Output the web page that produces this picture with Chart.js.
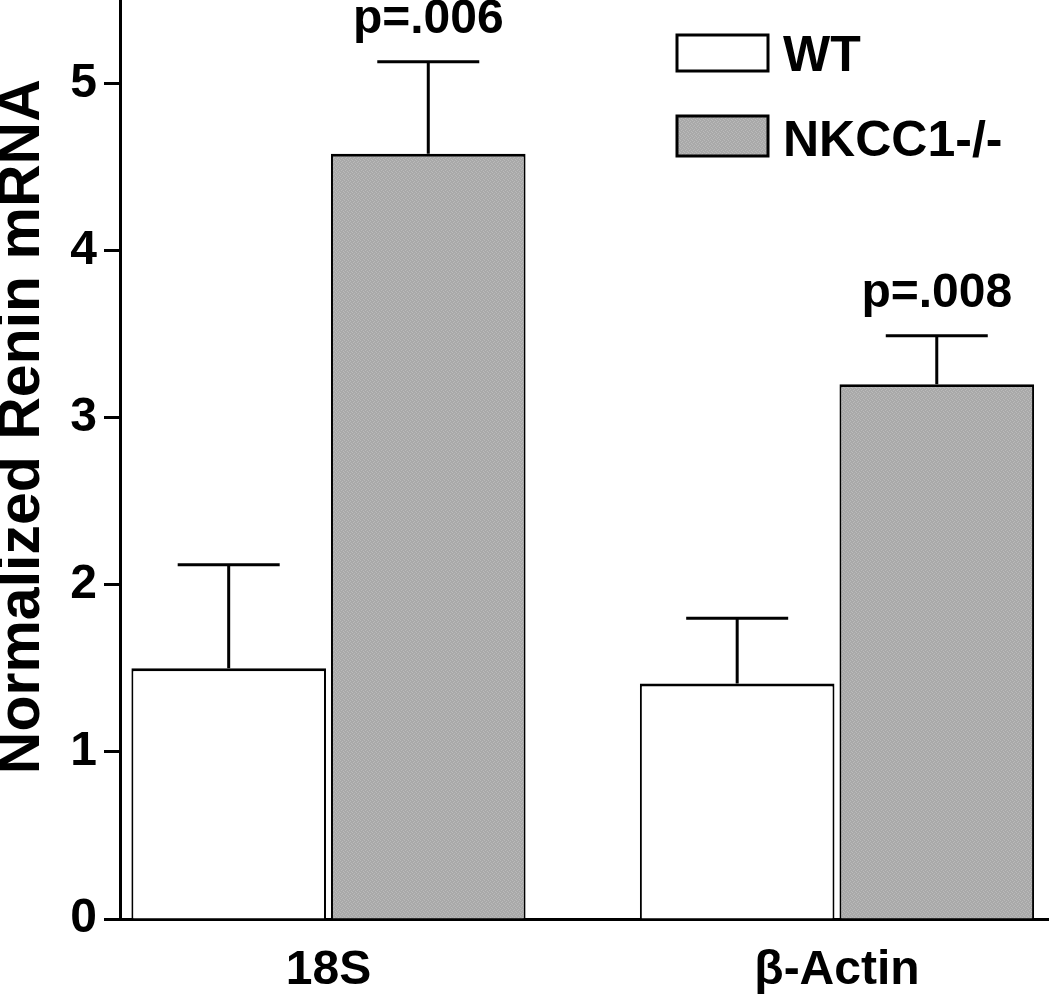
<!DOCTYPE html>
<html>
<head>
<meta charset="utf-8">
<title>Normalized Renin mRNA</title>
<script src="https://cdn.jsdelivr.net/npm/chart.js@4.4.1/dist/chart.umd.min.js"></script>
<style>
  html, body { margin: 0; padding: 0; background: #fff; }
  #wrap { width: 1050px; height: 1003px; position: relative; }
</style>
</head>
<body>
<div id="wrap"><canvas id="reninChart"></canvas></div>
<script>
// data
const categories = ['18S', 'β-Actin'];
const seriesNames = ['WT', 'NKCC1-/-'];
const wtValues = [1.50, 1.41];
const wtErrors = [0.62, 0.39];
const koValues = [4.58, 3.20];
const koErrors = [0.55, 0.29];
const pLabels = ['p=.006', 'p=.008'];
const yTicks = [0, 1, 2, 3, 4, 5];

const FONT = '"Liberation Sans", Arial, Helvetica, sans-serif';

// grey speckled fill like the printed figure
function greyPattern() {
  const c = document.createElement('canvas');
  c.width = 4; c.height = 4;
  const g = c.getContext('2d');
  g.fillStyle = '#a9a9a9';
  g.fillRect(0, 0, 4, 4);
  g.fillStyle = '#bababa';
  g.fillRect(0, 0, 1, 1);
  g.fillRect(2, 1, 1, 1);
  g.fillRect(1, 2, 1, 1);
  g.fillRect(3, 3, 1, 1);
  return g.createPattern(c, 'repeat');
}

// error bars (upper only) + p values over the knockout bars
const errorBars = {
  id: 'errorBars',
  afterDatasetsDraw(chart) {
    const ctx = chart.ctx;
    const y = chart.scales.y;
    ctx.save();
    ctx.strokeStyle = '#000';
    ctx.lineWidth = 3;
    chart.data.datasets.forEach((ds, di) => {
      const meta = chart.getDatasetMeta(di);
      meta.data.forEach((bar, i) => {
        const top = y.getPixelForValue(ds.data[i].y + ds.errors[i]);
        ctx.beginPath();
        ctx.moveTo(bar.x, bar.y);
        ctx.lineTo(bar.x, top);
        ctx.moveTo(bar.x - 51, top);
        ctx.lineTo(bar.x + 51, top);
        ctx.stroke();
        if (ds.pLabels) {
          ctx.fillStyle = '#000';
          ctx.font = 'bold 48px ' + FONT;
          ctx.textAlign = 'center';
          ctx.textBaseline = 'alphabetic';
          ctx.fillText(ds.pLabels[i], bar.x, top - 29);
        }
      });
    });
    ctx.restore();
  }
};

// legend boxes in the upper right corner
const cornerLegend = {
  id: 'cornerLegend',
  afterDraw(chart) {
    const ctx = chart.ctx;
    const rows = [{ y: 35, h: 36 }, { y: 116, h: 40 }];
    ctx.save();
    chart.data.datasets.forEach((ds, i) => {
      const r = rows[i];
      ctx.fillStyle = ds.backgroundColor;
      ctx.fillRect(677, r.y, 91, r.h);
      ctx.strokeStyle = '#000';
      ctx.lineWidth = 3;
      ctx.strokeRect(677, r.y, 91, r.h);
      ctx.fillStyle = '#000';
      ctx.font = 'bold 50px ' + FONT;
      ctx.textAlign = 'left';
      ctx.textBaseline = 'alphabetic';
      ctx.fillText(ds.label, 783, r.y + r.h);
    });
    ctx.restore();
  }
};

const ctx = document.getElementById('reninChart');
new Chart(ctx, {
  type: 'bar',
  data: {
    datasets: [
      {
        label: seriesNames[0],
        data: wtValues.map((v, i) => ({ x: i, y: v })),
        errors: wtErrors,
        backgroundColor: '#ffffff',
        borderColor: '#000',
        borderWidth: { top: 3, left: 2, right: 2, bottom: 0 },
        borderSkipped: false
      },
      {
        label: seriesNames[1],
        data: koValues.map((v, i) => ({ x: i, y: v })),
        errors: koErrors,
        pLabels: pLabels,
        backgroundColor: greyPattern(),
        borderColor: '#000',
        borderWidth: { top: 3, left: 2, right: 2, bottom: 0 },
        borderSkipped: false
      }
    ]
  },
  options: {
    responsive: true,
    maintainAspectRatio: false,
    animation: false,
    categoryPercentage: 0.785,
    barPercentage: 0.975,
    layout: { padding: { top: 0, right: 2, bottom: 0, left: 0 } },
    plugins: {
      legend: { display: false },
      tooltip: { enabled: false }
    },
    scales: {
      x: {
        type: 'linear',
        offset: false,
        min: -0.41,
        max: 1.415,
        afterBuildTicks: s => { s.ticks = categories.map((c, i) => ({ value: i })); },
        afterFit: s => { s.height = 84; s.paddingLeft = 0; s.paddingRight = 0; },
        grid: { display: false, offset: false },
        border: { display: true, color: '#000', width: 3 },
        ticks: {
          callback: v => categories[v],
          color: '#000',
          padding: 15,
          maxRotation: 0,
          font: { family: FONT, size: 48, weight: 'bold' }
        }
      },
      y: {
        min: 0,
        max: 5.5,
        afterBuildTicks: s => { s.ticks = yTicks.map(v => ({ value: v })); },
        afterFit: s => { s.width = 120; s.paddingTop = 0; s.paddingBottom = 0; },
        grid: {
          drawOnChartArea: false,
          drawTicks: true,
          tickLength: 16,
          tickWidth: 3,
          tickColor: '#000'
        },
        border: { display: true, color: '#000', width: 3 },
        ticks: {
          color: '#000',
          padding: 7,
          font: { family: FONT, size: 48, weight: 'bold' }
        },
        title: {
          display: true,
          // leading spaces lift the title a little, as in the original
          text: '    Normalized Renin mRNA',
          color: '#000',
          padding: 0,
          font: { family: FONT, size: 59, weight: 'bold', lineHeight: 0.76 }
        }
      }
    }
  },
  plugins: [errorBars, cornerLegend]
});
</script>
</body>
</html>
